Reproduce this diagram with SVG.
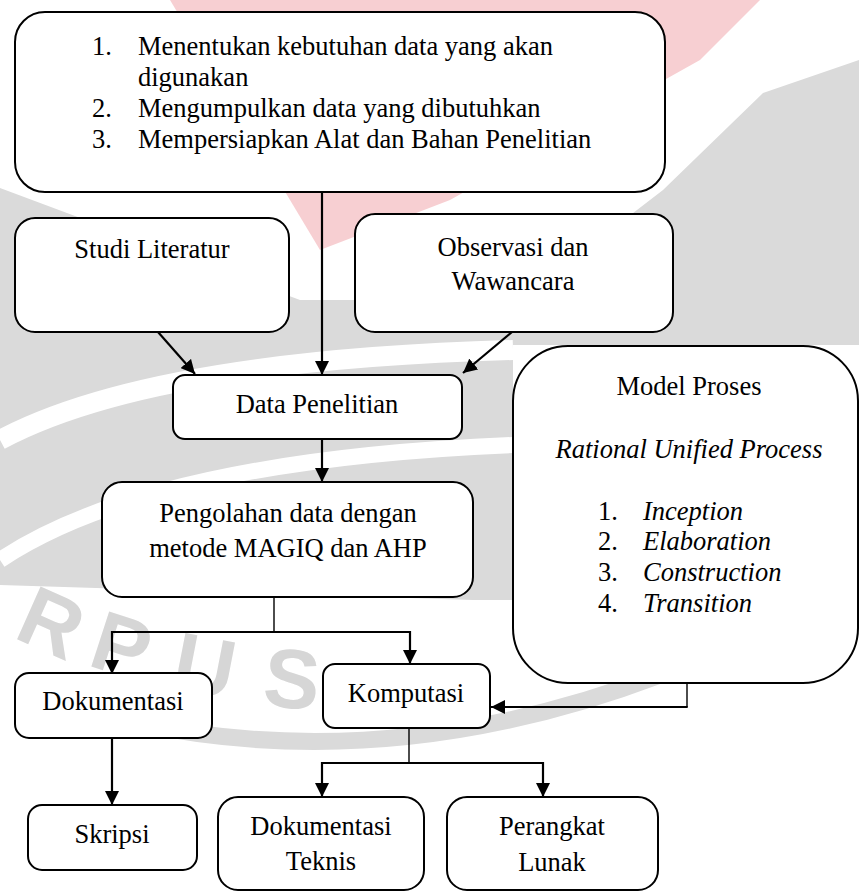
<svg xmlns="http://www.w3.org/2000/svg" width="859" height="896" viewBox="0 0 859 896">
<defs>
<style>
.box{fill:#fff;stroke:#000;stroke-width:2}
.t{font-family:"Liberation Serif","Times New Roman",serif;font-size:26.5px;fill:#000}
.i{font-style:italic}
.c{text-anchor:middle}
.ln{fill:none;stroke:#000;stroke-width:2.2}
.stem{fill:none;stroke:#000;stroke-width:1.4}
.wmg{fill:#dadada}
.wml{font-family:"Liberation Sans",Arial,sans-serif;font-weight:bold;font-size:84px;fill:#d6d6d6;text-anchor:middle}
</style>
<marker id="ah" viewBox="0 0 14 14" refX="14" refY="7" markerWidth="14" markerHeight="14" markerUnits="userSpaceOnUse" orient="auto">
<path d="M0,0 L14,7 L0,14 z" fill="#000"/>
</marker>
</defs>
<rect width="859" height="896" fill="#fff"/>

<g id="watermark">
<polygon class="wmg" points="0,188 300,300 520,300 663,190 763,93 859,60 859,345 513,345 513,600 473,600 0,585"/>
<path d="M0,440 Q150,360 513,350" fill="none" stroke="#fff" stroke-width="20"/>
<path d="M0,560 Q150,460 513,445" fill="none" stroke="#fff" stroke-width="16"/>
<polygon points="170,0 760,0 700,60 450,200 320,250" fill="#f7cfd2"/>
<path d="M20,690 Q330,800 660,675" fill="none" stroke="#dadada" stroke-width="17"/>
<g class="wml">
<text transform="translate(52,622) rotate(24)" x="0" y="30">R</text>
<text transform="translate(122,645) rotate(18)" x="0" y="30">P</text>
<text transform="translate(205,665) rotate(11)" x="0" y="30">U</text>
<text transform="translate(292,678) rotate(5)" x="0" y="30">S</text>
</g>
</g>

<g id="connectors">
<line class="ln" x1="322" y1="192" x2="322" y2="375" marker-end="url(#ah)"/>
<line class="ln" x1="158" y1="332" x2="195" y2="374" marker-end="url(#ah)"/>
<line class="ln" x1="512" y1="332" x2="463" y2="373" marker-end="url(#ah)"/>
<line class="ln" x1="322" y1="439" x2="322" y2="482" marker-end="url(#ah)"/>
<line class="stem" x1="274" y1="597" x2="274" y2="632"/>
<path class="ln" d="M275,632 H112 V674" marker-end="url(#ah)"/>
<path class="ln" d="M273,632 H410 V664" marker-end="url(#ah)"/>
<line class="stem" x1="687" y1="683" x2="687" y2="707"/>
<path class="ln" d="M687.7,707 H491" marker-end="url(#ah)"/>
<line class="ln" x1="112" y1="738" x2="112" y2="805" marker-end="url(#ah)"/>
<line class="stem" x1="409" y1="728" x2="409" y2="763"/>
<path class="ln" d="M410,763 H322 V797" marker-end="url(#ah)"/>
<path class="ln" d="M408,763 H543 V797" marker-end="url(#ah)"/>
</g>

<g id="node-persiapan">
<rect class="box" x="15" y="12" width="650" height="180" rx="30"/>
<text class="t" x="92" y="55">1.</text>
<text class="t" x="138" y="55">Menentukan kebutuhan data yang akan</text>
<text class="t" x="138" y="86">digunakan</text>
<text class="t" x="92" y="117">2.</text>
<text class="t" x="138" y="117">Mengumpulkan data yang dibutuhkan</text>
<text class="t" x="92" y="148">3.</text>
<text class="t" x="138" y="148">Mempersiapkan Alat dan Bahan Penelitian</text>
</g>

<g id="node-studi">
<rect class="box" x="15" y="218" width="274" height="114" rx="20"/>
<text class="t c" x="152" y="258">Studi Literatur</text>
</g>

<g id="node-observasi">
<rect class="box" x="355" y="214" width="318" height="118" rx="20"/>
<text class="t c" x="513" y="256">Observasi dan</text>
<text class="t c" x="513" y="290">Wawancara</text>
</g>

<g id="node-data">
<rect class="box" x="173" y="375" width="289" height="64" rx="12"/>
<text class="t c" x="317" y="413">Data Penelitian</text>
</g>

<g id="node-pengolahan">
<rect class="box" x="102" y="482" width="371" height="115" rx="20"/>
<text class="t c" x="288" y="522">Pengolahan data dengan</text>
<text class="t c" x="288" y="557">metode MAGIQ dan AHP</text>
</g>

<g id="node-model">
<rect class="box" x="513" y="346" width="345" height="337" rx="55"/>
<text class="t c" x="689" y="395">Model Proses</text>
<text class="t c i" x="689" y="458">Rational Unified Process</text>
<text class="t" x="598" y="520">1.</text>
<text class="t i" x="643" y="520">Inception</text>
<text class="t" x="598" y="550">2.</text>
<text class="t i" x="643" y="550">Elaboration</text>
<text class="t" x="598" y="581">3.</text>
<text class="t i" x="643" y="581">Construction</text>
<text class="t" x="598" y="612">4.</text>
<text class="t i" x="643" y="612">Transition</text>
</g>

<g id="node-dokumentasi">
<rect class="box" x="15" y="673" width="197" height="65" rx="14"/>
<text class="t c" x="113" y="710">Dokumentasi</text>
</g>

<g id="node-komputasi">
<rect class="box" x="323" y="664" width="167" height="64" rx="12"/>
<text class="t c" x="406" y="702">Komputasi</text>
</g>

<g id="node-skripsi">
<rect class="box" x="28" y="805" width="169" height="65" rx="14"/>
<text class="t c" x="112" y="843">Skripsi</text>
</g>

<g id="node-dokteknis">
<rect class="box" x="218" y="797" width="206" height="93" rx="20"/>
<text class="t c" x="321" y="835">Dokumentasi</text>
<text class="t c" x="321" y="870">Teknis</text>
</g>

<g id="node-perangkat">
<rect class="box" x="447" y="797" width="211" height="93" rx="20"/>
<text class="t c" x="552" y="835">Perangkat</text>
<text class="t c" x="552" y="871">Lunak</text>
</g>
</svg>
